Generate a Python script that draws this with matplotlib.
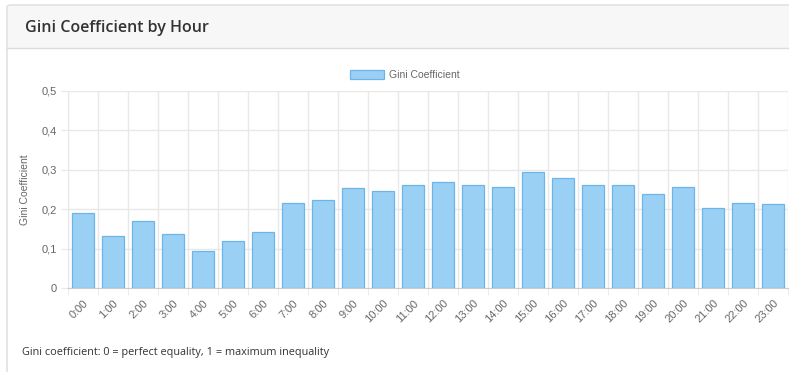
import matplotlib
matplotlib.use('Agg')
import matplotlib.pyplot as plt
from matplotlib.patches import FancyBboxPatch, Rectangle
from matplotlib.lines import Line2D
import numpy as np

# data
hours = [f'{h}:00' for h in range(24)]
gini = [0.190, 0.132, 0.170, 0.137, 0.095, 0.119, 0.143, 0.217,
        0.224, 0.254, 0.246, 0.261, 0.270, 0.261, 0.257, 0.295,
        0.279, 0.262, 0.261, 0.240, 0.257, 0.203, 0.217, 0.214]
y_ticks = [0, 0.1, 0.2, 0.3, 0.4, 0.5]
y_tick_labels = ['0', '0,1', '0,2', '0,3', '0,4', '0,5']

W, H = 789, 372
plt.rcParams['font.family'] = ['Liberation Sans', 'DejaVu Sans']
fig = plt.figure(figsize=(W / 100, H / 100), dpi=100)

def fx(px):
    return px / W

def fy(py):
    return 1 - py / H

# card + header
card = FancyBboxPatch((fx(7), fy(380)), fx(800), fy(5) - fy(380),
                      boxstyle='round,pad=0,rounding_size=0.006',
                      transform=fig.transFigure, facecolor='white',
                      edgecolor='#dcdcdc', linewidth=1, zorder=0)
fig.patches.append(card)
header = Rectangle((fx(8), fy(48)), fx(800), fy(6) - fy(48),
                   transform=fig.transFigure, facecolor='#f7f7f7',
                   edgecolor='none', zorder=1)
fig.patches.append(header)
fig.lines.append(Line2D([fx(7), 1], [fy(48), fy(48)], transform=fig.transFigure,
                        color='#dcdcdc', linewidth=1, zorder=2))
fig.text(fx(25), fy(28), 'Gini Coefficient by Hour', fontsize=11.5, family='Open Sans',
         fontweight='semibold', color='#333333', va='center', ha='left', zorder=3)
fig.text(fx(22), fy(352), 'Gini coefficient: 0 = perfect equality, 1 = maximum inequality',
         fontsize=7.8, family='Open Sans', color='#333333', va='center', ha='left', zorder=3)

# chart area
ax = fig.add_axes([fx(68), fy(288.3), fx(788) - fx(68), fy(91) - fy(288.3)])
ax.set_zorder(4)
x = np.arange(len(hours))
ax.bar(x, gini, width=0.72, color='#9bd0f5', edgecolor='#6db5e8', linewidth=0.9,
       label='Gini Coefficient', zorder=3)
ax.set_xlim(-0.5, len(hours) - 0.5)
ax.set_ylim(0, 0.5)
ax.set_yticks(y_ticks)
ax.set_yticklabels(y_tick_labels)
ax.set_xticks(x)
ax.set_xticklabels(hours, rotation=45, ha='right', rotation_mode='anchor')
ax.set_xticks(np.arange(-0.5, len(hours), 1), minor=True)
ax.grid(True, axis='x', which='minor', color='#e8e8e8', linewidth=1, zorder=0)
ax.grid(True, axis='y', which='major', color='#e8e8e8', linewidth=1, zorder=0)
ax.tick_params(axis='x', which='major', length=0, labelsize=8, labelcolor='#666666', pad=7)
ax.tick_params(axis='x', which='minor', length=5, color='#e8e8e8')
ax.tick_params(axis='y', length=5, color='#e8e8e8', labelsize=8, labelcolor='#666666', pad=3)
for s in ['top', 'right']:
    ax.spines[s].set_visible(False)
ax.spines['left'].set_color('#e8e8e8')
ax.spines['bottom'].set_color('#cccccc')
ax.set_ylabel('Gini Coefficient', fontsize=7.5, color='#666666', labelpad=8)

leg = fig.legend(loc='center', bbox_to_anchor=(fx(405), fy(75)), frameon=False,
                 fontsize=7.5, handlelength=3.2, handleheight=0.9, handletextpad=0.5,
                 labelcolor='#666666')

fig.savefig('out.png', dpi=100)
